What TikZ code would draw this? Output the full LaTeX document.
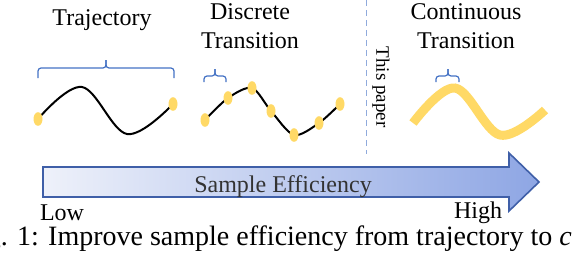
\documentclass[tikz,border=0pt]{standalone}
\usepackage{fontspec}
\setmainfont{Liberation Serif}
\usetikzlibrary{shapes.geometric}
\definecolor{dotyellow}{HTML}{FFD966}
\definecolor{bracecol}{HTML}{4472C4}
\definecolor{arrowedge}{HTML}{3F5FA8}
\definecolor{arrowlight}{HTML}{EEF1FA}
\definecolor{arrowdark}{HTML}{8EA6E4}
\definecolor{sepcol}{HTML}{8FAADC}

\begin{document}
\begin{tikzpicture}[x=0.5pt, y=0.5pt,
  dot/.style={ellipse, fill=dotyellow, inner sep=0pt, minimum width=4.5pt, minimum height=6.8pt},
  curve/.style={line width=1pt},
  brc/.style={draw=bracecol, line width=0.6pt, rounded corners=1.5pt},
  lbl/.style={font=\fontsize{12}{14.4}\selectfont, align=center, inner sep=0pt},
  small/.style={font=\fontsize{9.5}{11}\selectfont, inner sep=0pt}]
\clip (0,0) rectangle (572,258);
% headings
\node[lbl] (traj) at (102,238) {Trajectory};
\node[lbl] (disc) at (250,232) {Discrete\\Transition};
\node[lbl] (cont) at (466,232) {Continuous\\Transition};
\node[small, rotate=-90] (paper) at (381,171) {This paper};
% separator
\coordinate (septop) at (366,258);
\coordinate (sepbot) at (366,104);
\draw[sepcol, dash pattern=on 3pt off 2pt, line width=0.5pt] (septop) -- (sepbot);
% braces: left/middle/right/height/drop/rise
\foreach \a/\m/\b/\h/\d/\r in {38/106/174/190/10/8, 204/215/226/182/6/7, 436/448/459/182/6/7}{
  \draw[brc] (\a,\h-\d) |- (\m,\h) -- (\m,\h+\r);
  \draw[brc] (\b,\h-\d) |- (\m,\h) -- (\m,\h+\r);
}
% trajectory
\coordinate (t1) at (38,139);
\coordinate (t2) at (173,154);
\draw[curve] plot[smooth, tension=0.6] coordinates {(t1) (82,171) (127,124) (t2)};
\node[dot] (tstart) at (t1) {};
\node[dot] (tend) at (t2) {};
% discrete transitions
\foreach \x/\y [count=\i] in {205/138, 228/160, 252/170, 271/147, 294/123, 319/135, 340/154}
  \coordinate (p\i) at (\x,\y);
\draw[curve] plot[smooth, tension=0.5] coordinates {(p1) (p2) (p3) (p4) (p5) (p6) (p7)};
\foreach \i in {1,...,7}
  \node[dot] (d\i) at (p\i) {};
% continuous transition
\draw[dotyellow, line width=4.5pt] plot[smooth, tension=0.6] coordinates {(413,135) (455,170) (500,123) (545,148)};
% efficiency arrow
\shadedraw[left color=arrowlight, right color=arrowdark, draw=arrowedge, line width=0.8pt]
  (43,91) -- (509,91) -- (509,105) -- (539,76) -- (509,47) -- (509,61) -- (43,61) -- cycle;
\node[lbl, text=black!80] (eff) at (283,71) {Sample Efficiency};
\node[lbl, anchor=base] (low) at (62,38) {Low};
\node[lbl, anchor=base] (high) at (478,40) {High};
% caption
\node[font=\fontsize{14}{16}\selectfont, anchor=base west, inner sep=0pt] (cap) at (-37,13)
  {Fig. 1: Improve sample efficiency from trajectory to \textit{continuous transition}};
\end{tikzpicture}
\end{document}
